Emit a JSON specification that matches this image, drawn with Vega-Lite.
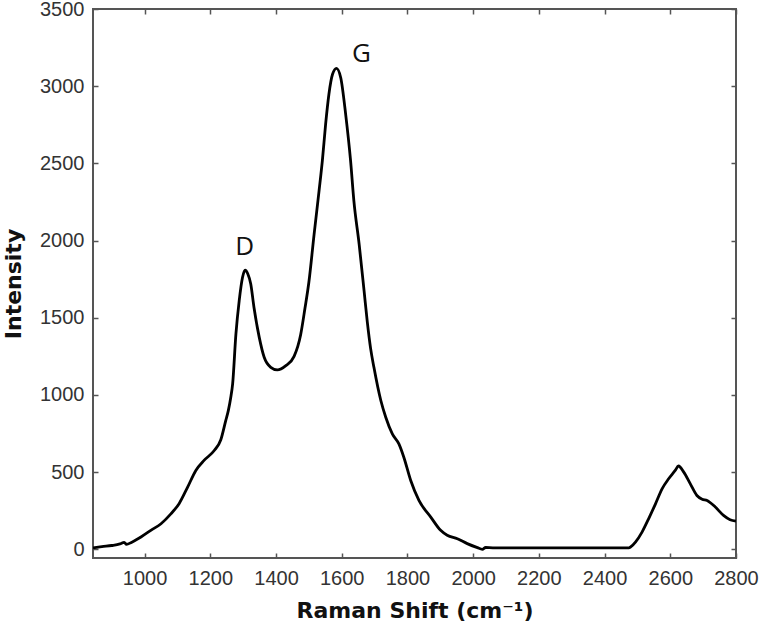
{
  "$schema": "https://vega.github.io/schema/vega-lite/v6.json",
  "width": 643,
  "height": 549,
  "autosize": "none",
  "padding": {"left": 93, "top": 9, "right": 24, "bottom": 72},
  "background": "white",
  "config": {
    "view": {"stroke": "#555555", "strokeWidth": 2},
    "axis": {
      "domain": false,
      "grid": false,
      "tickColor": "#555555",
      "tickWidth": 1.5,
      "tickSize": -5,
      "labelFont": "Liberation Sans",
      "labelFontSize": 20,
      "labelColor": "#333333",
      "titleFont": "DejaVu Sans",
      "titleFontSize": 22,
      "titleFontWeight": "bold",
      "titleColor": "#111111"
    }
  },
  "resolve": {"axis": {"x": "independent", "y": "independent"}},
  "layer": [
    {
      "data": {
        "values": [
          {"shift": 843, "intensity": 10},
          {"shift": 870, "intensity": 18},
          {"shift": 900, "intensity": 25},
          {"shift": 925, "intensity": 35},
          {"shift": 938, "intensity": 45},
          {"shift": 945, "intensity": 32},
          {"shift": 960, "intensity": 45},
          {"shift": 989, "intensity": 80},
          {"shift": 1019, "intensity": 123},
          {"shift": 1050, "intensity": 166},
          {"shift": 1080, "intensity": 230},
          {"shift": 1105, "intensity": 296},
          {"shift": 1131, "intensity": 403},
          {"shift": 1156, "intensity": 511},
          {"shift": 1181, "intensity": 576},
          {"shift": 1212, "intensity": 640},
          {"shift": 1232, "intensity": 710},
          {"shift": 1247, "intensity": 834},
          {"shift": 1255, "intensity": 900},
          {"shift": 1262, "intensity": 980},
          {"shift": 1268, "intensity": 1072},
          {"shift": 1278, "intensity": 1395},
          {"shift": 1288, "intensity": 1611},
          {"shift": 1298, "intensity": 1761},
          {"shift": 1306, "intensity": 1808},
          {"shift": 1314, "intensity": 1785},
          {"shift": 1323, "intensity": 1720},
          {"shift": 1333, "intensity": 1567},
          {"shift": 1349, "intensity": 1373},
          {"shift": 1364, "intensity": 1244},
          {"shift": 1384, "intensity": 1179},
          {"shift": 1404, "intensity": 1162},
          {"shift": 1430, "intensity": 1190},
          {"shift": 1455, "intensity": 1250},
          {"shift": 1475, "intensity": 1390},
          {"shift": 1488, "intensity": 1560},
          {"shift": 1500, "intensity": 1730},
          {"shift": 1516, "intensity": 2042},
          {"shift": 1531, "intensity": 2322},
          {"shift": 1541, "intensity": 2516},
          {"shift": 1551, "intensity": 2754},
          {"shift": 1561, "intensity": 2948},
          {"shift": 1572, "intensity": 3077},
          {"shift": 1584, "intensity": 3116},
          {"shift": 1597, "intensity": 3055},
          {"shift": 1612, "intensity": 2818},
          {"shift": 1627, "intensity": 2516},
          {"shift": 1637, "intensity": 2257},
          {"shift": 1653, "intensity": 1977},
          {"shift": 1668, "intensity": 1676},
          {"shift": 1678, "intensity": 1470},
          {"shift": 1688, "intensity": 1300},
          {"shift": 1698, "intensity": 1179},
          {"shift": 1719, "intensity": 964},
          {"shift": 1734, "intensity": 856},
          {"shift": 1754, "intensity": 748},
          {"shift": 1774, "intensity": 683},
          {"shift": 1789, "intensity": 597},
          {"shift": 1810, "intensity": 446},
          {"shift": 1835, "intensity": 317},
          {"shift": 1871, "intensity": 209},
          {"shift": 1901, "intensity": 123},
          {"shift": 1921, "intensity": 91},
          {"shift": 1952, "intensity": 69},
          {"shift": 1982, "intensity": 37},
          {"shift": 2013, "intensity": 11},
          {"shift": 2028, "intensity": 0},
          {"shift": 2038, "intensity": 12},
          {"shift": 2060, "intensity": 10},
          {"shift": 2200, "intensity": 10},
          {"shift": 2400, "intensity": 10},
          {"shift": 2474, "intensity": 10},
          {"shift": 2479, "intensity": 15},
          {"shift": 2494, "intensity": 47},
          {"shift": 2514, "intensity": 112},
          {"shift": 2534, "intensity": 198},
          {"shift": 2555, "intensity": 295},
          {"shift": 2575, "intensity": 392},
          {"shift": 2595, "intensity": 457},
          {"shift": 2615, "intensity": 511},
          {"shift": 2625, "intensity": 540},
          {"shift": 2641, "intensity": 500},
          {"shift": 2661, "intensity": 424},
          {"shift": 2681, "intensity": 349},
          {"shift": 2697, "intensity": 325},
          {"shift": 2712, "intensity": 317},
          {"shift": 2737, "intensity": 274},
          {"shift": 2762, "intensity": 220},
          {"shift": 2782, "intensity": 192},
          {"shift": 2800, "intensity": 183}
        ]
      },
      "mark": {"type": "line", "color": "#000000", "strokeWidth": 2.8, "clip": true, "interpolate": "monotone"},
      "encoding": {
        "x": {
          "field": "shift",
          "type": "quantitative",
          "scale": {"domain": [843, 2800], "nice": false, "zero": false},
          "axis": {
            "orient": "bottom",
            "values": [1000, 1200, 1400, 1600, 1800, 2000, 2200, 2400, 2600, 2800],
            "format": "d",
            "labelPadding": 15,
            "labelFlush": false,
            "title": "Raman Shift (cm⁻¹)",
            "titlePadding": 12
          }
        },
        "y": {
          "field": "intensity",
          "type": "quantitative",
          "scale": {"domain": [-56, 3500], "nice": false, "zero": false},
          "axis": {
            "orient": "left",
            "values": [0, 500, 1000, 1500, 2000, 2500, 3000, 3500],
            "format": "d",
            "labelPadding": 14,
            "labelFlush": false,
            "title": "Intensity",
            "titlePadding": 14
          }
        }
      }
    },
    {
      "data": {
        "values": [
          {"shift": 1305, "intensity": 1960, "label": "D"},
          {"shift": 1660, "intensity": 3210, "label": "G"}
        ]
      },
      "mark": {"type": "text", "font": "Open Sans", "fontSize": 26, "color": "#111111", "baseline": "middle", "align": "center"},
      "encoding": {
        "x": {
          "field": "shift",
          "type": "quantitative",
          "axis": {
            "orient": "top",
            "values": [1000, 1200, 1400, 1600, 1800, 2000, 2200, 2400, 2600, 2800],
            "labels": false,
            "title": null
          }
        },
        "y": {
          "field": "intensity",
          "type": "quantitative",
          "axis": {
            "orient": "right",
            "values": [0, 500, 1000, 1500, 2000, 2500, 3000, 3500],
            "labels": false,
            "title": null
          }
        },
        "text": {"field": "label"}
      }
    }
  ]
}
